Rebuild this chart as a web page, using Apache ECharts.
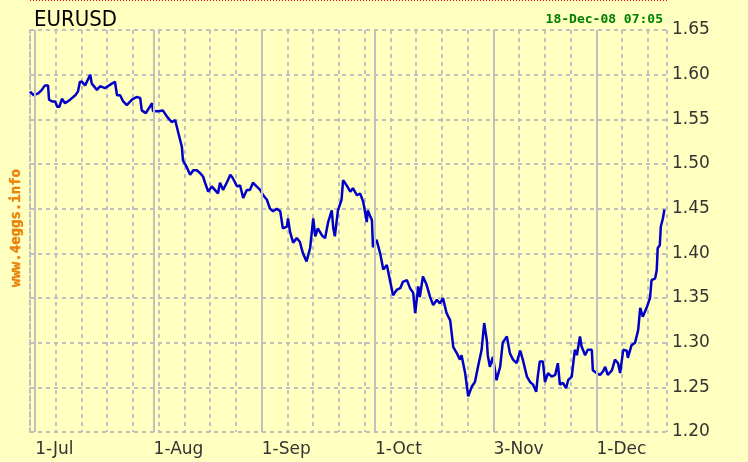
<!DOCTYPE html>
<html>
<head>
<meta charset="utf-8">
<title>EURUSD</title>
<script src="https://cdn.jsdelivr.net/npm/echarts@6/dist/echarts.min.js"></script>
<style>
  html, body { margin: 0; padding: 0; background: #ffffc0; }
  #chart { width: 748px; height: 462px; }
</style>
</head>
<body>
<div id="chart"></div>
<script>
// x is counted in trading days (Mon-Fri) from Mon 30-Jun-2008
const monthLabels = ['1-Jul', '1-Aug', '1-Sep', '1-Oct', '3-Nov', '1-Dec']
const monthStartDays = [1, 24, 45, 67, 90, 110]
const yTicks = ['1.20', '1.25', '1.30', '1.35', '1.40', '1.45', '1.50', '1.55', '1.60', '1.65']

const sessionDays = [
  0, 0.7, 1.0, 1.6, 2.3, 2.9, 3.5, 3.7, 4.3, 4.9, 5.3, 5.7, 6.2, 6.8, 7.8, 8.8, 9.3, 9.7, 10.1, 10.7,
  11.7, 12.0, 13.0, 13.6, 14.6, 15.9, 16.5, 16.9, 17.5, 18.1, 18.8, 19.8, 20.7, 21.4, 21.7, 22.5, 23.7, 23.9, 24.9, 25.8,
  26.6, 27.5, 28.2, 28.8, 29.5, 29.7, 30.4, 31.1, 31.7, 32.4, 33.0, 33.6, 34.0, 34.6, 35.3, 35.9, 36.5, 36.9, 37.5, 38.2,
  38.9, 39.4, 40.2, 40.8, 41.4, 42.1, 42.7, 43.3, 44.0, 44.7, 45.3, 46.0, 46.6, 47.2, 47.9, 48.6, 49.1, 49.9, 50.1, 50.5,
  51.1, 51.8, 52.4, 53.0, 53.7, 54.4, 55.0, 55.4, 55.9, 56.7, 57.3, 57.9, 58.6, 58.9, 59.2, 59.8, 60.5, 60.8, 61.5, 62.2,
  62.7, 63.5, 64.1, 64.7, 65.4, 65.6, 66.4, 66.6, 67.3, 68.0, 68.6, 69.3, 69.9, 70.5, 71.2, 71.9, 72.4, 73.2, 73.8, 74.4,
  74.8, 75.4, 75.7, 76.3, 77.0, 77.7, 78.3, 79.0, 79.6, 80.2, 80.9, 81.6, 82.2, 82.9, 83.5, 83.8, 84.5, 85.1, 85.8, 86.4,
  87.0, 87.7, 88.2, 88.7, 88.9, 89.3, 89.9, 90.6, 91.3, 91.8, 92.6, 93.2, 93.8, 94.5, 95.2, 95.7, 96.5, 97.1, 97.7, 98.3,
  98.6, 99.0, 99.6, 100.0, 100.6, 101.3, 102.0, 102.5, 102.9, 103.5, 104.1, 104.5, 105.2, 105.8, 106.2, 106.8, 107.1, 107.8, 108.3, 109.1,
  109.3, 110.0, 110.7, 111.3, 111.7, 112.2, 113.0, 113.6, 114.2, 114.6, 115.2, 115.9, 116.1, 116.8, 117.5, 118.1, 118.5, 119.0, 119.8, 120.4,
  120.7, 121.4, 121.7, 121.9, 122.3, 122.5, 122.9, 123.2
]
const eurusd = [
  1.581, 1.577, 1.575, 1.579, 1.583, 1.588, 1.588, 1.572, 1.570, 1.570, 1.564, 1.564, 1.573, 1.568, 1.572, 1.577, 1.581, 1.592, 1.592, 1.588,
  1.600, 1.590, 1.583, 1.587, 1.585, 1.590, 1.592, 1.577, 1.577, 1.570, 1.566, 1.572, 1.575, 1.574, 1.560, 1.557, 1.568, 1.559, 1.559, 1.560,
  1.553, 1.547, 1.549, 1.535, 1.519, 1.504, 1.497, 1.488, 1.493, 1.493, 1.490, 1.486, 1.479, 1.469, 1.475, 1.471, 1.467, 1.479, 1.471, 1.479,
  1.488, 1.484, 1.475, 1.476, 1.462, 1.471, 1.471, 1.479, 1.475, 1.471, 1.465, 1.460, 1.450, 1.447, 1.450, 1.447, 1.428, 1.430, 1.439, 1.424,
  1.412, 1.417, 1.413, 1.400, 1.391, 1.406, 1.439, 1.419, 1.428, 1.420, 1.417, 1.435, 1.448, 1.428, 1.419, 1.448, 1.460, 1.482, 1.476, 1.469,
  1.473, 1.465, 1.467, 1.458, 1.435, 1.448, 1.437, 1.407, 1.415, 1.400, 1.382, 1.387, 1.370, 1.353, 1.359, 1.361, 1.368, 1.370, 1.361, 1.356,
  1.333, 1.363, 1.351, 1.374, 1.365, 1.351, 1.342, 1.348, 1.344, 1.350, 1.333, 1.325, 1.295, 1.288, 1.281, 1.286, 1.266, 1.240, 1.251, 1.256,
  1.273, 1.292, 1.322, 1.303, 1.286, 1.273, 1.284, 1.258, 1.273, 1.300, 1.307, 1.288, 1.281, 1.277, 1.291, 1.281, 1.262, 1.256, 1.253, 1.245,
  1.262, 1.279, 1.279, 1.256, 1.266, 1.262, 1.264, 1.277, 1.253, 1.255, 1.249, 1.258, 1.262, 1.292, 1.286, 1.307, 1.296, 1.286, 1.292, 1.292,
  1.269, 1.266, 1.264, 1.268, 1.273, 1.264, 1.269, 1.281, 1.277, 1.266, 1.292, 1.291, 1.283, 1.297, 1.300, 1.314, 1.339, 1.329, 1.340, 1.350,
  1.370, 1.372, 1.381, 1.406, 1.409, 1.430, 1.439, 1.449
]

const gridColor = '#c0c0c0'
const dashed = { color: gridColor, width: 2, type: [4, 4] }

const chart = echarts.init(document.getElementById('chart'))

chart.setOption({
  animation: false,
  backgroundColor: '#ffffc0',
  title: {
    text: 'EURUSD',
    left: 29,
    top: 4,
    textStyle: {
      fontFamily: "'Liberation Sans Narrow', 'DejaVu Sans Condensed', sans-serif",
      fontSize: 22,
      fontWeight: 'normal',
      color: '#000'
    }
  },
  graphic: [
    {
      type: 'line',
      shape: { x1: 30, y1: 0.5, x2: 668, y2: 0.5 },
      style: { stroke: '#ff0000', lineWidth: 1, lineDash: [1, 2] },
      silent: true
    },
    {
      type: 'text',
      right: 85,
      top: 13,
      style: {
        text: '18-Dec-08 07:05',
        font: "bold 13px 'DejaVu Sans Mono', monospace",
        fill: '#008000'
      }
    },
    {
      type: 'text',
      x: 16,
      y: 228,
      rotation: Math.PI / 2,
      style: {
        text: 'www.4eggs.info',
        font: "bold 14px 'DejaVu Sans Mono', monospace",
        fill: '#f08000',
        stroke: '#b06010',
        lineWidth: 0.3,
        align: 'center',
        verticalAlign: 'middle'
      }
    }
  ],
  grid: { left: 30, right: 81, top: 30, bottom: 30 },
  xAxis: {
    type: 'value',
    min: 0,
    max: 123.7,
    interval: 5,
    axisLine: { show: false },
    axisTick: { show: false },
    splitLine: { show: true, lineStyle: dashed },
    axisLabel: {
      customValues: monthStartDays,
      formatter: (v) => monthLabels[monthStartDays.indexOf(v)],
      align: 'left',
      margin: 9,
      fontFamily: "'DejaVu Sans', sans-serif",
      fontSize: 17,
      color: '#333'
    }
  },
  yAxis: {
    type: 'value',
    position: 'right',
    min: 1.2,
    max: 1.65,
    interval: 0.05,
    axisLine: { show: true, lineStyle: dashed },
    axisTick: { show: false },
    splitLine: { show: true, lineStyle: dashed },
    axisLabel: {
      formatter: (v) => yTicks[Math.round((v - 1.2) / 0.05)],
      margin: 5,
      fontFamily: "'DejaVu Sans', sans-serif",
      fontSize: 17,
      color: '#333'
    }
  },
  series: [
    {
      // solid month separators
      type: 'line',
      data: [],
      z: 1,
      markLine: {
        silent: true,
        symbol: 'none',
        label: { show: false },
        lineStyle: { color: gridColor, width: 2, type: 'solid' },
        data: monthStartDays.map((d) => ({ xAxis: d }))
      }
    },
    {
      name: 'EURUSD',
      type: 'line',
      z: 3,
      showSymbol: false,
      data: sessionDays.map((d, i) => [d, eurusd[i]]),
      lineStyle: { color: '#0000c8', width: 2.5 },
      itemStyle: { color: '#0000c8' }
    }
  ]
})
</script>
</body>
</html>
